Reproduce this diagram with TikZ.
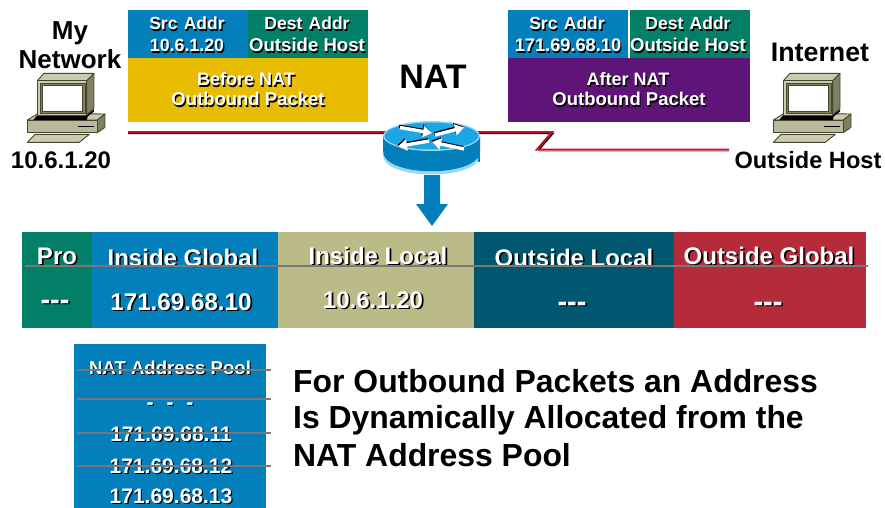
\documentclass[tikz,border=0pt]{standalone}
\usepackage{fontspec}
\setmainfont{Liberation Sans}
\usetikzlibrary{arrows.meta,calc}
\definecolor{cblue}{HTML}{0380BB}
\definecolor{cgreen}{HTML}{037F68}
\definecolor{cyellow}{HTML}{E8BC00}
\definecolor{cpurple}{HTML}{5F1478}
\definecolor{ckhaki}{HTML}{BBBB88}
\definecolor{cteal}{HTML}{025770}
\definecolor{cred}{HTML}{B52B3A}
\definecolor{crouter}{HTML}{1CA6E6}
\definecolor{cline}{HTML}{C0102E}
\definecolor{pcfront}{HTML}{B9B99B}
\definecolor{pclight}{HTML}{CBCBB0}
\definecolor{pcside}{HTML}{7F7F62}
\definecolor{pcedge}{HTML}{47472F}
\newcommand{\sh}[1]{\leavevmode\rlap{\kern1.6pt\raisebox{-1.6pt}{\color{black}#1}}#1}
\newcommand{\shh}[1]{\leavevmode\rlap{\kern1.2pt\raisebox{-1.2pt}{\color{black}#1}}#1}
\tikzset{
  wtxt/.style={text=white,anchor=base,inner sep=0pt,font=\fontsize{#1}{#1}\selectfont\bfseries},
  btxt/.style={text=black,anchor=base,inner sep=0pt,font=\fontsize{#1}{#1}\selectfont\bfseries},
  ltxt/.style={text=black,anchor=base west,inner sep=0pt,font=\fontsize{#1}{#1}\selectfont\bfseries},
  rule/.style={draw=gray!95!black,line width=1.5pt},
  pcline/.style={draw=pcedge,line width=0.9pt,line join=round},
}
\newcommand{\pcicon}[1]{%
\begin{scope}[shift={(#1,70)},x=0.3333pt,y=-0.3333pt]
  \path[pcline,fill=pclight] (22,150) -- (55,130) -- (255,132) -- (232,150) -- cycle;
  \path[pcline,fill=pcside] (232,150) -- (255,132) -- (255,172) -- (232,188) -- cycle;
  \path[pcline,fill=pcfront] (22,150) -- (232,150) -- (232,188) -- (22,188) -- cycle;
  \fill[black] (52,138) -- (205,138) -- (222,125) -- (222,118) -- (200,135) -- (52,135) -- cycle;
  \fill[black] (52,135) -- (205,135) -- (200,150) -- (40,150) -- cycle;
  \draw[black,line width=0.7pt] (175,168) -- (222,168);
  \path[pcline,fill=pclight] (45,193) -- (208,193) -- (178,217) -- (22,217) -- cycle;
  \path[pcline,fill=pcside] (200,32) -- (222,10) -- (222,115) -- (200,135) -- cycle;
  \path[pcline,fill=pclight] (52,32) -- (72,10) -- (222,10) -- (200,32) -- cycle;
  \path[pcline,fill=pclight] (52,32) -- (200,32) -- (200,135) -- (52,135) -- cycle;
  \path[pcline,fill=pcside] (60,40) -- (195,40) -- (195,130) -- (60,130) -- cycle;
  \path[draw=pcedge,line width=0.5pt,fill=white] (68,47) -- (188,47) -- (188,123) -- (68,123) -- cycle;
\end{scope}}
\newcommand{\rarrow}[2]{%
  \draw[black,line width=3.4pt,-{Triangle[width=11pt,length=9pt]}] ($(#1)+(-0.8,-1.2)$) -- ($(#2)+(-0.8,-1.2)$);
  \draw[white,line width=3.4pt,-{Triangle[width=11pt,length=9pt]}] (#1) -- (#2);}
\begin{document}
\begin{tikzpicture}[x=1pt,y=-1pt]
\useasboundingbox (0,0) rectangle (885,508);
% header left
\fill[cblue] (128,10) rectangle (248,58);
\fill[cgreen] (248,10) rectangle (368,58);
\fill[cyellow] (128,58) rectangle (368,122);
\node[wtxt=17.5] (srcL) at (187,30) {\shh{Src\hspace{1.5pt} Addr}};
\node[wtxt=17.8] (srcLv) at (187,52) {\shh{10.6.1.20}};
\node[wtxt=17.5] (dstL) at (307,30) {\shh{Dest\hspace{1.5pt} Addr}};
\node[wtxt=18.6] (dstLv) at (307,52) {\shh{Outside Host}};
\node[wtxt=18] (befL) at (246,86) {\shh{Before NAT}};
\node[wtxt=18.5] (outL) at (248,106) {\shh{Outbound Packet}};
% header right
\fill[cblue] (508,10) rectangle (628,58);
\fill[cgreen] (630,10) rectangle (750,58);
\fill[cpurple] (508,58) rectangle (750,122);
\node[wtxt=17.5] (srcR) at (567,30) {\shh{Src\hspace{1.5pt} Addr}};
\node[wtxt=18.2] (srcRv) at (568,52) {\shh{171.69.68.10}};
\node[wtxt=17.5] (dstR) at (688,30) {\shh{Dest\hspace{1.5pt} Addr}};
\node[wtxt=18.6] (dstRv) at (688,52) {\shh{Outside Host}};
\node[wtxt=18] (aftR) at (628,86) {\shh{After NAT}};
\node[wtxt=18.5] (outR) at (629,106) {\shh{Outbound Packet}};
% black labels
\node[btxt=26] (my) at (70,40) {My};
\node[btxt=26] (net) at (70,69) {Network};
\node[btxt=24] (ipL) at (61,168) {10.6.1.20};
\node[btxt=34] (nat) at (433,89) {NAT};
\node[btxt=26.8] (inet) at (820,62) {Internet};
\node[btxt=23.6] (host) at (808,168) {Outside Host};
% computers
\pcicon{20}
\pcicon{766}
% connector
\coordinate (lineA) at (128,132);
\coordinate (lineB) at (552,132);
\coordinate (lineC) at (537,149.5);
\coordinate (lineD) at (729,149.5);
\draw[black,line width=1.5pt,line join=miter] ($(lineA)+(0,1.4)$) -- ($(lineB)+(1,1.4)$) -- ($(lineC)+(2,0)$);
\draw[cline!35!white,line width=0.7pt] ($(lineA)+(0,-1)$) -- ($(lineB)+(-170,-1)$);
\draw[cline!35!white,line width=0.7pt] ($(lineC)+(2,1.5)$) -- ($(lineD)+(0,1.5)$);
\draw[cline,line width=2pt] (lineA) -- (lineB) -- (lineC) -- (lineD);
% router
\path[fill=white!55!crouter] (383,136) -- (383,155) .. controls (383,181) and (480,181) .. (480,155) -- (480,136) -- cycle;
\path[fill=cblue] (383,136) -- (383,151) .. controls (383,178) and (480,178) .. (480,151) -- (480,136) -- cycle;
\fill[cblue] (478,136) rectangle (480,162);
\fill[white!55!crouter] (431.5,136) ellipse[x radius=48.5,y radius=15];
\fill[crouter] (431.5,136) ellipse[x radius=47,y radius=13.5];
\coordinate (a1s) at (400,127.5); \coordinate (a1e) at (432,133);
\coordinate (a2s) at (435,135); \coordinate (a2e) at (464,127.5);
\coordinate (a3s) at (429,141); \coordinate (a3e) at (398,146.5);
\coordinate (a4s) at (464,149); \coordinate (a4e) at (432,142);
\rarrow{a1s}{a1e}
\rarrow{a2s}{a2e}
\rarrow{a3s}{a3e}
\rarrow{a4s}{a4e}
% down arrow
\fill[cblue] (424,175) -- (440,175) -- (440,204) -- (448,204) -- (432,226) -- (416,204) -- (424,204) -- cycle;
% table
\fill[cgreen] (22,232) rectangle (92,328);
\fill[cblue] (92,232) rectangle (278,328);
\fill[ckhaki] (278,232) rectangle (474,328);
\fill[cteal] (474,232) rectangle (674,328);
\fill[cred] (674,232) rectangle (866,328);
\node[wtxt=24] (tPro) at (57,264) {\sh{Pro}};
\node[wtxt=24] (tIG) at (183,266) {\sh{Inside Global}};
\node[wtxt=24] (tIL) at (378,264) {\sh{Inside Local}};
\node[wtxt=24] (tOL) at (574,266) {\sh{Outside Local}};
\node[wtxt=24] (tOG) at (769,264) {\sh{Outside Global}};
\node[wtxt=29] (vPro) at (55,309) {\sh{-{}-{}-}};
\node[wtxt=24.2] (vIG) at (181,310) {\sh{171.69.68.10}};
\node[wtxt=24] (vIL) at (373,308) {\sh{10.6.1.20}};
\node[wtxt=29] (vOL) at (572,311) {\sh{-{}-{}-}};
\node[wtxt=29] (vOG) at (768,311) {\sh{-{}-{}-}};
\coordinate (ruleA) at (25,266);
\coordinate (ruleB) at (868,266);
\draw[rule] (ruleA) -- (ruleB);
% pool
\fill[cblue] (74,344) rectangle (266,508);
\node[wtxt=18.6] (pT) at (170,374) {\shh{NAT Address Pool}};
\node[wtxt=21] (pD) at (170,409) {\shh{-\hspace{13pt}-\hspace{13pt}-}};
\node[wtxt=21] (p1) at (171,441) {\shh{171.69.68.11}};
\node[wtxt=21] (p2) at (171,473) {\shh{171.69.68.12}};
\node[wtxt=21] (p3) at (171,503.4) {\shh{171.69.68.13}};
\foreach \yy/\nm in {370/a,399/b,433/c,466/d}{
  \coordinate (pl\nm) at (77,\yy);
  \coordinate (pr\nm) at (271,\yy);
  \draw[rule] (pl\nm) -- (pr\nm);
}
% caption
\node[ltxt=31.9] (c1) at (293,392) {For Outbound Packets an Address};
\node[ltxt=31.9] (c2) at (293,428) {Is Dynamically Allocated from the};
\node[ltxt=31.9] (c3) at (293,466) {NAT Address Pool};
\end{tikzpicture}
\end{document}
